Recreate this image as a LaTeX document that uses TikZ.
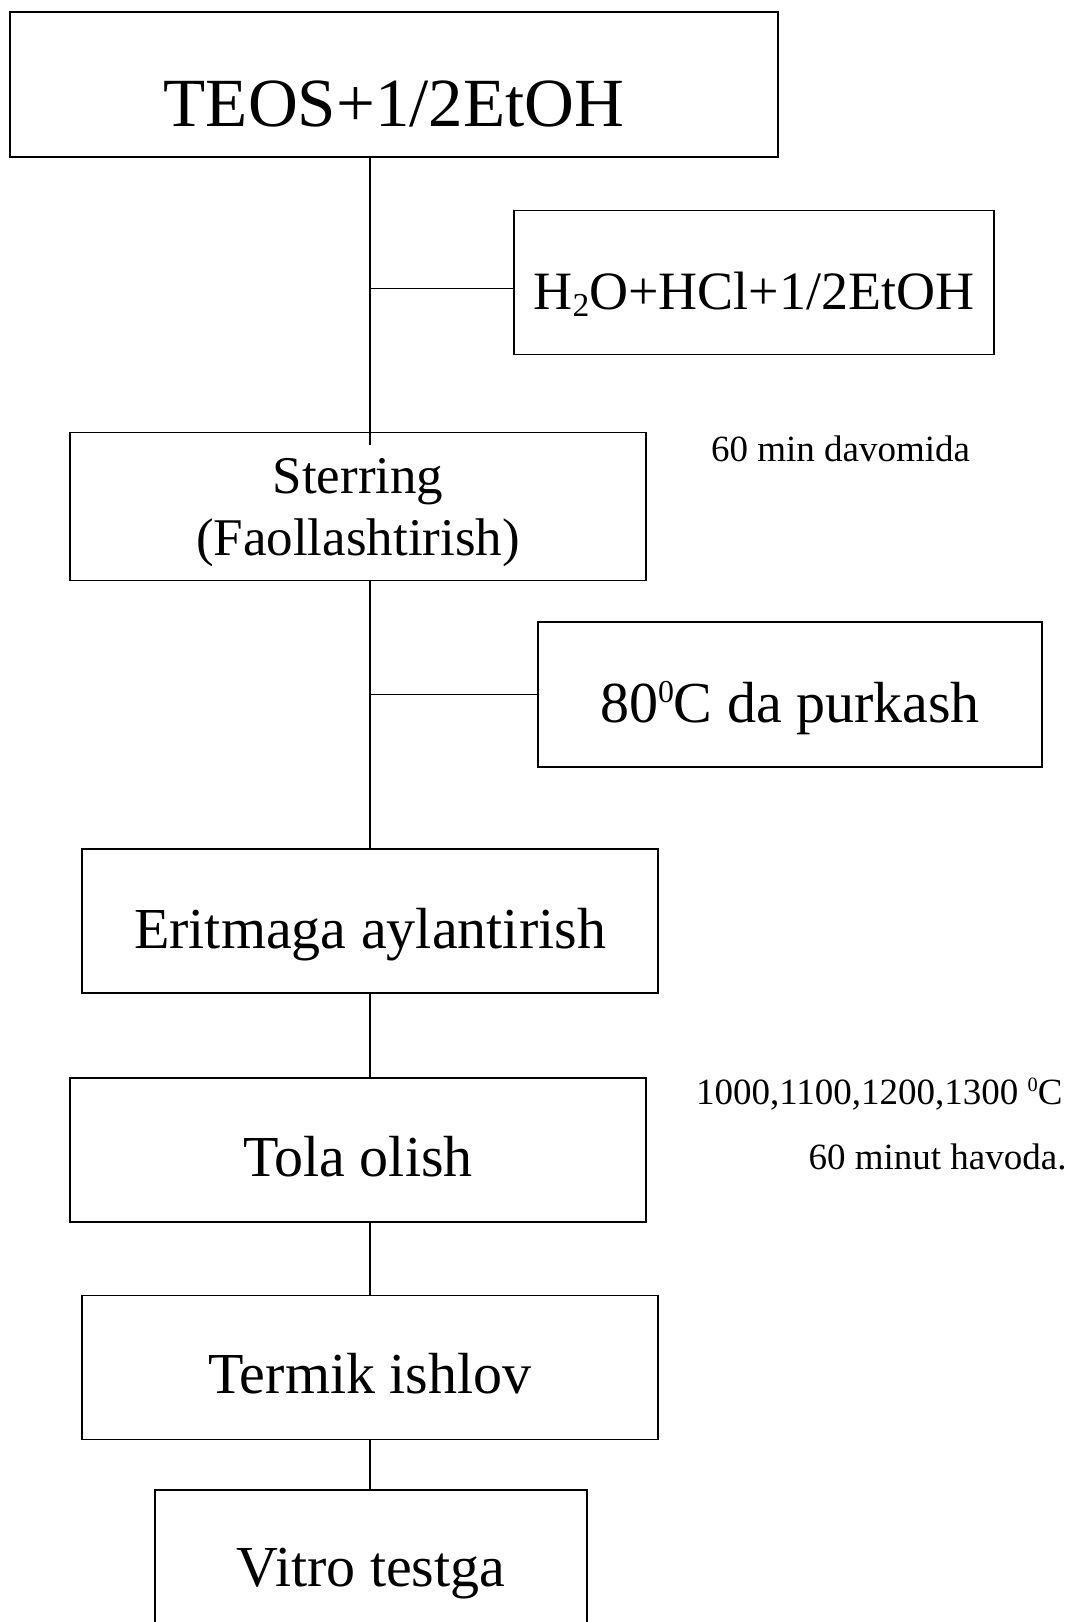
\documentclass[tikz,border=0pt]{standalone}
\usepackage{fontspec}
\setmainfont{Liberation Serif}
\usepackage{tikz}
\usetikzlibrary{positioning}

\newcommand{\supzero}{\raisebox{0.34em}{\scalebox{0.55}{0}}}
\newcommand{\subtwo}{\raisebox{-0.13em}{\scalebox{0.62}{2}}}

\begin{document}
\begin{tikzpicture}[
            box/.style={draw=black, rectangle, line width=1.6pt, inner sep=0pt, minimum width=576pt, minimum height=144pt, text height=54pt, text depth=0pt, text centered, font=\fontsize{58}{64}\selectfont},
            note/.style={inner sep=0pt, font=\fontsize{37}{42}\selectfont},
            link/.style={line width=1.5pt}]
            \useasboundingbox (0,0) rectangle (1074pt,-1622pt);

            % Top
            \node (teos) [box, minimum width=768pt, minimum height=145pt, text height=83pt, font=\fontsize{69}{75}\selectfont] at (394pt,-84.5pt) {TEOS+1/2EtOH};
            \node (h2o) [box, below=52pt of teos, xshift=360pt, minimum width=480pt, text height=54pt, font=\fontsize{54}{60}\selectfont] {H\subtwo O+HCl+1/2EtOH};

            % Middle
            \node (sterring) [box, below=274pt of teos, xshift=-36pt, minimum height=148pt, text height=, text depth=0pt, align=center, font=\fontsize{53}{60}\selectfont] {Sterring\\[2pt](Faollashtirish)};
            \node (note1) [note, right=64pt of sterring, yshift=58pt] {60 min davomida};
            \node (purkash) [box, below=40pt of sterring, xshift=432pt, minimum width=504pt, minimum height=145pt, text height=56pt] {80\supzero C da purkash};
            \node (eritmaga) [box, below=267pt of sterring, xshift=12pt] {Eritmaga aylantirish};

            % Bottom
            \node (tola) [box, below=83pt of eritmaga, xshift=-12pt] {Tola olish};
            \node (note2) [note, right=49pt of tola, yshift=56pt] {1000,1100,1200,1300 \supzero C};
            \node (note3) [note, anchor=east] at ([yshift=-63pt, xshift=4pt]note2.east) {60 minut havoda.};
            \node (termik) [box, below=72pt of tola, xshift=12pt, text height=52pt] {Termik ishlov};
            \node (vitro) [box, below=49pt of termik, xshift=1pt, minimum width=432pt, minimum height=142pt, text height=50pt] {Vitro testga};

            % Connections
            \draw [link] (teos.south -| eritmaga) -- ([yshift=-13pt]sterring.north -| eritmaga);
            \draw [link] ([yshift=-6pt]h2o.west -| eritmaga) -- ([yshift=-6pt]h2o.west);
            \draw [link] (sterring.south -| eritmaga) -- (eritmaga.north);
            \draw [link] (purkash.west -| eritmaga) -- (purkash.west);
            \draw [link] (eritmaga.south) -- (tola.north -| eritmaga);
            \draw [link] (tola.south -| eritmaga) -- (termik.north);
            \draw [link] (termik.south) -- (vitro.north -| termik);
        \end{tikzpicture}
\end{document}
